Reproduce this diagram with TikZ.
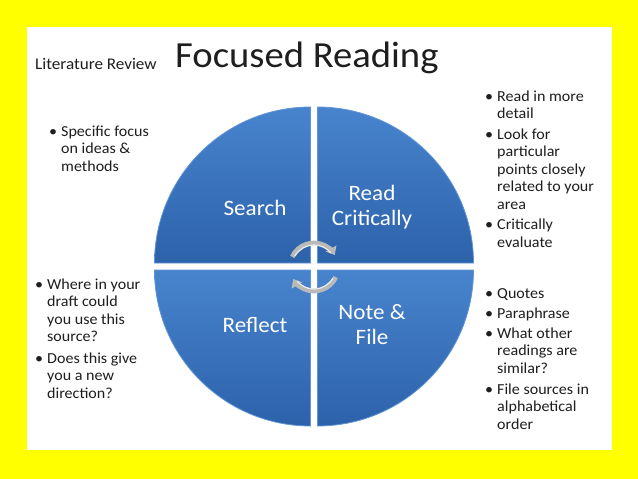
\documentclass[tikz,border=0pt]{standalone}
\usepackage{fontspec}
\setmainfont{Carlito}[FakeStretch=1.05]
\usetikzlibrary{arrows.meta}
\definecolor{ylw}{RGB}{255,255,0}
\definecolor{qtop}{RGB}{72,132,206}
\definecolor{qbot}{RGB}{44,98,170}
\definecolor{qrim}{RGB}{98,150,215}
\definecolor{txt}{RGB}{30,30,30}
\tikzset{
  quad/.style={top color=qtop, bottom color=qbot, draw=qrim, line width=0.8pt},
  qlabel/.style={text=white, font=\fontsize{22}{25}\selectfont, align=center, inner sep=0},
  bul/.style={anchor=north west, inner sep=0, text=txt, font=\fontsize{15.3}{17.5}\selectfont},
  cyc/.style={draw=gray!55, line width=4.8pt, -{Triangle[length=7.5pt,width=12pt]}},
  cychi/.style={draw=gray!15, line width=1.2pt},
}
\begin{document}
\begin{tikzpicture}[x=1pt,y=-1pt]
\useasboundingbox (0,0) rectangle (638,479);
\fill[ylw] (0,0) rectangle (638,479);
\fill[white] (27,27) rectangle (612,450);
% title
\node[anchor=west, inner sep=0, text=txt, font=\fontsize{16.3}{18}\selectfont] (sub) at (35,64) {Literature Review};
\node[anchor=base west, inner sep=0, text=txt, font=\fontsize{36.8}{42}\selectfont] (title) at (175,67) {Focused Reading};
% quadrants
\path[quad] (310.5,263) -- ++(-156,0) arc[start angle=180,end angle=270,radius=156] -- cycle;
\path[quad] (317.5,263) -- ++(0,-156) arc[start angle=270,end angle=360,radius=156] -- cycle;
\path[quad] (317.5,270) -- ++(156,0) arc[start angle=0,end angle=90,radius=156] -- cycle;
\path[quad] (310.5,270) -- ++(0,156) arc[start angle=90,end angle=180,radius=156] -- cycle;
\node[qlabel] (search) at (255,208) {Search};
\node[qlabel] (read) at (372,207) {Read\\Critically};
\node[qlabel] (reflect) at (255,325) {Reflect};
\node[qlabel] (note) at (372,325) {Note \&\\File};
% cycle arrows
\coordinate (cc) at (314,267);
\draw[cyc] (cc) ++(205:24) arc[start angle=205,end angle=330,radius=24];
\draw[cychi] (cc) ++(210:22) arc[start angle=210,end angle=320,radius=22];
\draw[cyc] (cc) ++(25:24) arc[start angle=25,end angle=150,radius=24];
\draw[cychi] (cc) ++(30:22) arc[start angle=30,end angle=140,radius=22];
% bullet texts
\node[bul] (tl) at (49,124) {\begin{tabular}{@{}l@{\hspace{4pt}}l@{}}
\textbullet & Specific focus\\ & on ideas \&\\ & methods\end{tabular}};
\node[bul] (bl) at (35,277) {\begin{tabular}{@{}l@{\hspace{4pt}}l@{}}
\textbullet & Where in your\\ & draft could\\ & you use this\\ & source?\\[4pt]
\textbullet & Does this give\\ & you a new\\ & direction?\end{tabular}};
\node[bul] (tr) at (485,89) {\begin{tabular}{@{}l@{\hspace{4pt}}l@{}}
\textbullet & Read in more\\ & detail\\[3pt]
\textbullet & Look for\\ & particular\\ & points closely\\ & related to your\\ & area\\[3pt]
\textbullet & Critically\\ & evaluate\end{tabular}};
\node[bul] (br) at (485,286) {\begin{tabular}{@{}l@{\hspace{4pt}}l@{}}
\textbullet & Quotes\\[2.5pt]
\textbullet & Paraphrase\\[2.5pt]
\textbullet & What other\\ & readings are\\ & similar?\\[3.5pt]
\textbullet & File sources in\\ & alphabetical\\ & order\end{tabular}};
\end{tikzpicture}
\end{document}
